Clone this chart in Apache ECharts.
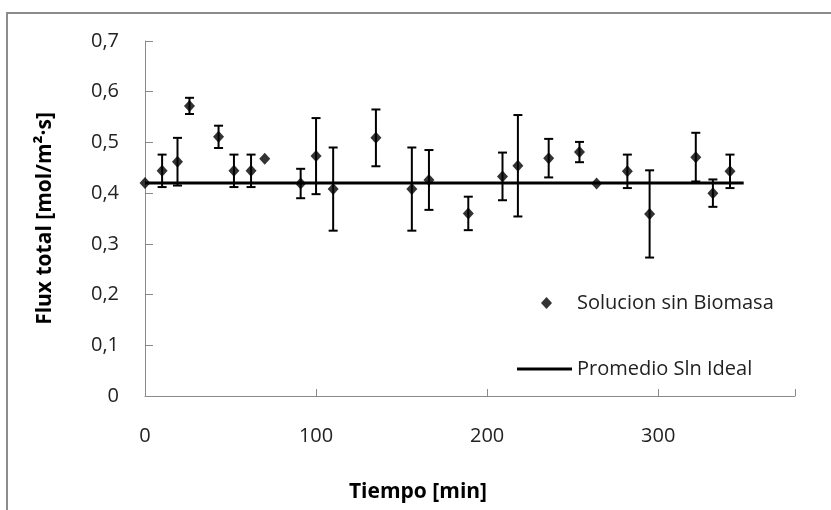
<!DOCTYPE html>
<html>
<head>
<meta charset="utf-8">
<script src="https://cdn.jsdelivr.net/npm/echarts@6/dist/echarts.min.js"></script>
<style>html,body{margin:0;padding:0;background:#fff;}#c{width:831px;height:510px;}</style>
</head>
<body>
<div id="c"></div>
<script>
const tiempo = [0, 10, 19, 26, 43, 52, 62, 70, 91, 100, 110, 135, 156, 166, 189, 209, 218, 236, 254, 264, 282, 295, 322, 332, 342];
const flux = [0.420, 0.444, 0.462, 0.572, 0.511, 0.444, 0.444, 0.468, 0.419, 0.473, 0.408, 0.509, 0.408, 0.426, 0.360, 0.433, 0.454, 0.469, 0.481, 0.419, 0.443, 0.359, 0.471, 0.400, 0.443];
const errBar = [0, 0.032, 0.047, 0.016, 0.022, 0.032, 0.032, 0, 0.029, 0.075, 0.082, 0.056, 0.082, 0.059, 0.033, 0.047, 0.100, 0.038, 0.020, 0, 0.033, 0.086, 0.048, 0.027, 0.033];
const promedioX = [0, 350];
const promedioY = [0.42, 0.42];
const xTicks = [0, 100, 200, 300];
const yTicks = [0, 0.1, 0.2, 0.3, 0.4, 0.5, 0.6, 0.7];

const FONT = 'Open Sans';
const chart = echarts.init(document.getElementById('c'), null, {renderer: 'canvas'});

const scatterData = tiempo.map((t, i) => [t, flux[i]]);
const errData = tiempo.map((t, i) => [t, flux[i], errBar[i]]);
const lineData = promedioX.map((t, i) => [t, promedioY[i]]);

chart.setOption({
  animation: false,
  backgroundColor: '#fff',
  grid: {left: 145, top: 41, right: 36, bottom: 114, containLabel: false},
  xAxis: {
    type: 'value', min: 0, max: 380, interval: 100,
    name: 'Tiempo [min]', nameLocation: 'middle', nameGap: 86,
    nameTextStyle: {fontFamily: FONT, fontWeight: 'bold', fontSize: 21, color: '#000', padding: [0, 104, 0, 0]},
    axisLine: {lineStyle: {color: '#8a8a8a', width: 1}},
    axisTick: {inside: true, length: 7, lineStyle: {color: '#8a8a8a'}},
    axisLabel: {margin: 30, fontFamily: FONT, fontSize: 20, color: '#222',
      formatter: v => xTicks.includes(v) ? String(v) : ''},
    splitLine: {show: false}
  },
  yAxis: {
    type: 'value', min: 0, max: 0.7, interval: 0.1,
    name: 'Flux total [mol/m\u00b2\u00b7s]', nameLocation: 'middle', nameGap: 89, nameRotate: 90,
    nameTextStyle: {fontFamily: FONT, fontWeight: 'bold', fontSize: 21, color: '#000'},
    axisLine: {show: true, lineStyle: {color: '#8a8a8a', width: 1}},
    axisTick: {show: true, inside: true, length: 8, lineStyle: {color: '#8a8a8a'}},
    axisLabel: {margin: 26, fontFamily: FONT, fontSize: 20, color: '#222',
      formatter: v => {
        const m = yTicks.find(t => Math.abs(t - v) < 1e-9);
        if (m === undefined) return '';
        return m === 0 ? '0' : m.toFixed(1).replace('.', ',');
      }},
    splitLine: {show: false}
  },
  legend: [
    {
      data: [{name: 'Solucion sin Biomasa', icon: 'diamond'}],
      left: 541, top: 293, padding: 0, itemWidth: 11, itemHeight: 12,
      textStyle: {fontFamily: FONT, fontSize: 20, color: '#222', padding: [0, 0, 0, 20]},
      selectedMode: false
    },
    {
      data: [{name: 'Promedio Sln Ideal', icon: 'rect'}],
      left: 517, top: 359, padding: 0, itemWidth: 55, itemHeight: 3,
      itemStyle: {color: '#000'},
      textStyle: {fontFamily: FONT, fontSize: 20, color: '#222'},
      selectedMode: false
    }
  ],
  graphic: [{
    type: 'polyline', silent: true,
    shape: {points: [[7, 520], [7, 13], [840, 13]]},
    style: {stroke: '#8c8c8c', lineWidth: 2, fill: null}
  }],
  series: [
    {
      name: 'errores', type: 'custom', data: errData, z: 2,
      renderItem: (params, api) => {
        const x = api.value(0), y = api.value(1), e = api.value(2);
        if (!(e > 0)) return null;
        const top = api.coord([x, y + e]);
        const bot = api.coord([x, y - e]);
        const hw = 4.5;
        const st = {stroke: '#000', lineWidth: 2};
        return {type: 'group', children: [
          {type: 'line', shape: {x1: top[0], y1: top[1], x2: bot[0], y2: bot[1]}, style: st},
          {type: 'line', shape: {x1: top[0] - hw, y1: top[1], x2: top[0] + hw, y2: top[1]}, style: st},
          {type: 'line', shape: {x1: bot[0] - hw, y1: bot[1], x2: bot[0] + hw, y2: bot[1]}, style: st}
        ]};
      }
    },
    {
      name: 'Promedio Sln Ideal', type: 'line', data: lineData, z: 3,
      symbol: 'none', showSymbol: false,
      lineStyle: {color: '#000', width: 3},
      itemStyle: {color: '#000'}
    },
    {
      name: 'Solucion sin Biomasa', type: 'scatter', data: scatterData, z: 4,
      symbol: 'diamond', symbolSize: [11, 12],
      itemStyle: {color: '#000'}
    }
  ]
});
</script>
</body>
</html>
